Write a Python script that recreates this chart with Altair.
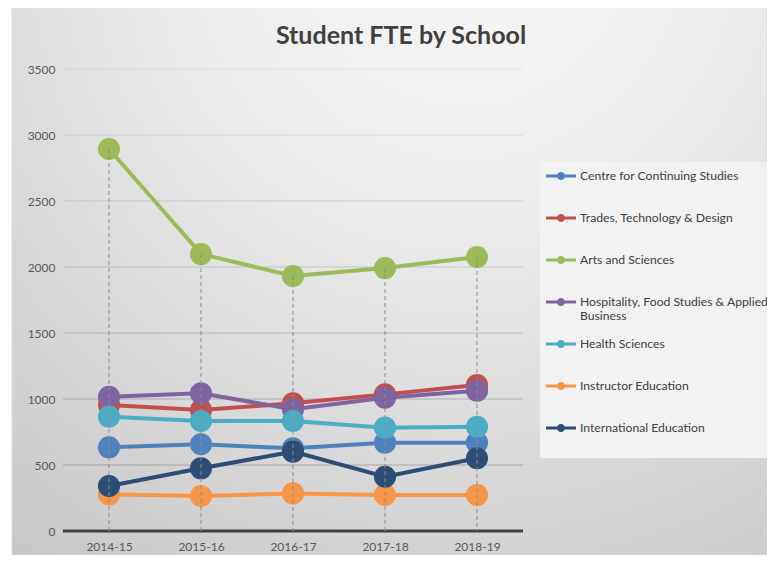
import altair as alt
import pandas as pd

years = ["2014-15", "2015-16", "2016-17", "2017-18", "2018-19"]
schools = [
    "Centre for Continuing Studies",
    "Trades, Technology & Design",
    "Arts and Sciences",
    "Hospitality, Food Studies & Applied Business",
    "Health Sciences",
    "Instructor Education",
    "International Education",
]
centre = [634, 657, 626, 669, 669]
trades = [955, 917, 967, 1035, 1106]
arts = [2894, 2098, 1932, 1992, 2076]
hospitality = [1017, 1043, 922, 1010, 1063]
health = [866, 833, 833, 783, 790]
instructor = [278, 265, 285, 273, 273]
international = [341, 475, 601, 411, 551]
y_ticks = [0, 500, 1000, 1500, 2000, 2500, 3000, 3500]
title_text = "Student FTE by School"

colors = ["#4F81BD", "#C0504D", "#9BBB59", "#8064A2", "#4BACC6", "#F79646", "#2C4D75"]
series = [centre, trades, arts, hospitality, health, instructor, international]

rows = []
for i, (s, vals) in enumerate(zip(schools, series)):
    for yr, v in zip(years, vals):
        rows.append({"school": s, "year": yr, "fte": v, "idx": i})
df = pd.DataFrame(rows)
drop = df.groupby("year", sort=False)["fte"].max().reset_index()
grid = pd.DataFrame({"v": y_ticks[1:]})
base0 = pd.DataFrame({"v": y_ticks[:1]})
one = pd.DataFrame({"a": [0]})

W, H = 460, 462
FONT = "Lato"

yscale = alt.Scale(domain=[0, 3500], nice=False)
xscale = alt.Scale(domain=years, type="point", padding=0.5)
yaxis = alt.Axis(title=None, values=y_ticks, format="d", grid=False, domain=False,
                 ticks=False, labelPadding=8, labelFontSize=12, labelColor="#595959",
                 labelFont=FONT, zindex=1)
xaxis = alt.Axis(title=None, labelAngle=0, grid=False, domain=False, ticks=False,
                 labelPadding=10, labelFontSize=12, labelColor="#595959",
                 labelFont=FONT, zindex=1)

sym_path = ("M0,-1.4Z M0,1.4Z M-1,-0.1H1V0.1H-1Z "
            "M0.27,0A0.27,0.27,0,1,1,-0.27,0A0.27,0.27,0,1,1,0.27,0Z")
legend = alt.Legend(
    orient="none", legendX=483, legendY=92, title=None,
    symbolType=sym_path, symbolSize=900, symbolStrokeWidth=0,
    labelFontSize=12.2, labelColor="#404040", labelFont=FONT,
    rowPadding=0, labelOffset=4, padding=0, labelLimit=400, zindex=1,
    labelExpr="datum.label == 'Hospitality, Food Studies & Applied Business' ? "
              "['Hospitality, Food Studies & Applied', 'Business'] : datum.label",
)
color = alt.Color("school:N", scale=alt.Scale(domain=schools, range=colors), legend=legend)

gradient = alt.RadialGradient(
    gradient="radial", x1=0.6, y1=0.05, r1=0, x2=0.6, y2=0.05, r2=1.1,
    stops=[alt.GradientStop(offset=0, color="#f8f8f8"),
           alt.GradientStop(offset=0.35, color="#ebebeb"),
           alt.GradientStop(offset=1, color="#c2c2c2")],
)

bg = alt.Chart(one).mark_rect(fill=gradient, stroke="#d9d9d9", strokeWidth=1).encode(
    x=alt.value(-51), x2=alt.value(704), y=alt.value(-64), y2=alt.value(486)
)
legend_box = alt.Chart(one).mark_rect(fill="#f2f2f2").encode(
    x=alt.value(477), x2=alt.value(704), y=alt.value(93), y2=alt.value(389)
)
title = alt.Chart(one).mark_text(
    text=title_text, font=FONT, fontSize=25, fontWeight="bold", color="#404040",
    align="center", baseline="middle"
).encode(x=alt.value(338), y=alt.value(-33))

grid_rules = alt.Chart(grid).mark_rule(color="#7f7f7f", strokeWidth=1).encode(
    y=alt.Y("v:Q", scale=yscale, axis=yaxis),
    opacity=alt.Opacity("v:Q", scale=alt.Scale(domain=[500, 3500], range=[0.55, 0.12]), legend=None),
)
baseline = alt.Chart(base0).mark_rule(color="#404040", strokeWidth=3).encode(
    y=alt.Y("v:Q", scale=yscale, axis=yaxis)
)
lines = alt.Chart(df).mark_line(strokeWidth=4).encode(
    x=alt.X("year:N", scale=xscale, axis=xaxis, sort=years),
    y=alt.Y("fte:Q", scale=yscale, axis=yaxis),
    color=color,
    order=alt.Order("idx:Q"),
)
points = alt.Chart(df).mark_circle(size=490, opacity=1).encode(
    x=alt.X("year:N", scale=xscale, axis=xaxis, sort=years),
    y=alt.Y("fte:Q", scale=yscale, axis=yaxis),
    color=color,
    order=alt.Order("idx:Q"),
)
drops = alt.Chart(drop).mark_rule(color="#8c8c8c", strokeWidth=1, strokeDash=[4, 3]).encode(
    x=alt.X("year:N", scale=xscale, axis=xaxis, sort=years),
    y=alt.Y("fte:Q", scale=yscale, axis=yaxis),
    y2=alt.datum(0),
)

chart = alt.layer(bg, legend_box, title, grid_rules, baseline, lines, points, drops).properties(
    width=W, height=H,
    autosize=alt.AutoSizeParams(type="none"),
    padding={"left": 55, "top": 61, "right": 244, "bottom": 24},
).configure_view(stroke=None).configure(background="white")

chart.save("out.html", embed_options={"renderer": "svg", "actions": False})
